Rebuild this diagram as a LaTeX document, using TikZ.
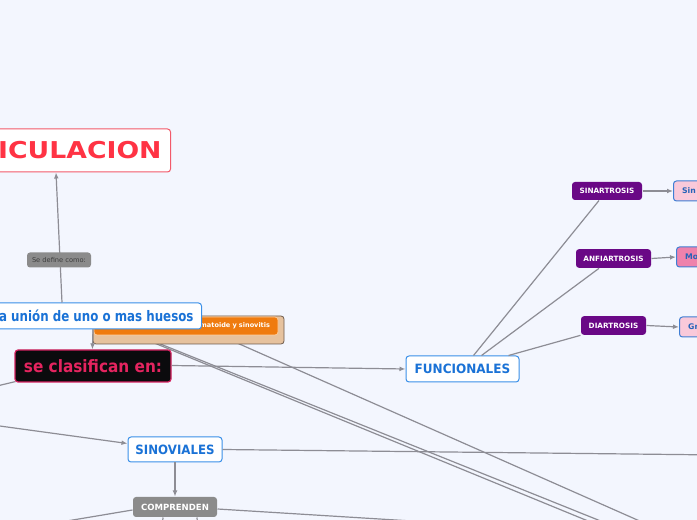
\documentclass[tikz,border=0pt]{standalone}
\usepackage{fontspec}
\setmainfont{DejaVu Sans}
\usetikzlibrary{arrows.meta,calc}
\pgfdeclarelayer{bgfill}
\pgfdeclarelayer{bglines}
\pgfsetlayers{bgfill,bglines,main}
\definecolor{bgc}{HTML}{F3F6FE}
\definecolor{lineg}{HTML}{8D8D95}
\definecolor{artborder}{HTML}{F25A6A}
\definecolor{artred}{HTML}{FF3344}
\definecolor{bluebd}{HTML}{3A8FE8}
\definecolor{bluetx}{HTML}{1A72D6}
\definecolor{blackf}{HTML}{0B0B0D}
\definecolor{crimbd}{HTML}{D4215F}
\definecolor{crimtx}{HTML}{E5245F}
\definecolor{purp}{HTML}{6A0886}
\definecolor{greybox}{HTML}{8B8B8B}
\definecolor{deftext}{HTML}{3D3D3D}
\definecolor{orangef}{HTML}{EF7B0F}
\definecolor{orangebd}{HTML}{FFCFA0}
\definecolor{tanf}{HTML}{E6C29E}
\definecolor{tanbd}{HTML}{6E5B4C}
\definecolor{pinkl}{HTML}{F9C9DA}
\definecolor{pinkd}{HTML}{EE82AC}
\definecolor{pinkbd}{HTML}{3F7ED4}
\definecolor{pinktx}{HTML}{2563B8}
\tikzset{
  conn/.style={draw=lineg, line width=0.9pt},
  arr/.style={conn, -{Latex[length=4.5pt,width=3.6pt]}},
  box/.style={rounded corners=2.25pt, inner sep=0pt, line width=0.75pt},
  artbox/.style={box, draw=artborder, fill=white, text=artred, font=\bfseries\fontsize{17.4pt}{20pt}\selectfont, inner xsep=6.75pt, minimum height=32.25pt},
  defbox/.style={box, draw=none, fill=greybox, text=deftext, font=\fontsize{5pt}{6pt}\selectfont, minimum width=48pt, minimum height=11.25pt},
  unionbox/.style={box, draw=bluebd, fill=white, text=bluetx, font=\bfseries\fontsize{10.9pt}{13pt}\selectfont, inner xsep=6pt, minimum height=19.5pt},
  tanbox/.style={box, draw=tanbd, fill=tanf, line width=0.6pt, minimum width=143.25pt, minimum height=21pt},
  orangebox/.style={box, draw=orangebd, fill=orangef, line width=0.5pt, text=white, font=\bfseries\fontsize{4.9pt}{6pt}\selectfont, minimum width=138pt, minimum height=13.5pt, text width=126pt, align=right},
  clasbox/.style={box, draw=crimbd, fill=blackf, text=crimtx, line width=0.9pt, font=\bfseries\fontsize{12.75pt}{15pt}\selectfont, minimum width=117pt, minimum height=24pt},
  catbox/.style={box, draw=bluebd, fill=white, text=bluetx, font=\bfseries\fontsize{9.6pt}{11pt}\selectfont, minimum height=19.5pt},
  compbox/.style={box, draw=none, fill=greybox, text=white, font=\bfseries\fontsize{6.4pt}{8pt}\selectfont, minimum width=63pt, minimum height=15pt},
  purpbox/.style={box, draw=none, fill=purp, text=white, font=\bfseries\fontsize{5.45pt}{7pt}\selectfont, minimum height=14pt},
  pinkbox/.style={box, draw=pinkbd, text=pinktx, font=\bfseries\fontsize{5.8pt}{7pt}\selectfont, inner xsep=6.5pt, minimum height=15pt}
}
\begin{document}
\begin{tikzpicture}[x=0.75pt,y=-0.75pt]
\useasboundingbox (0,0) rectangle (697,520);
\clip (0,0) rectangle (697,520);
\begin{pgfonlayer}{bgfill}
\fill[bgc] (0,0) rectangle (697,520);
\end{pgfonlayer}

% nodes
\node[tanbox] (enf) at (188.5,330) {};
\node[orangebox] (enfo) at (186,326) {Artritis reumatoide y sinovitis};
\node[artbox, anchor=east] (art) at (171,150.5) {\scalebox{1.15}[1]{ARTICULACION}};
\node[unionbox, anchor=east] (union) at (202,316) {\scalebox{0.815}[1]{la unión de uno o mas huesos}};
\node[clasbox] (clas) at (93,366) {\scalebox{0.9}[1]{se clasifican en:}};
\node[catbox, minimum width=84.75pt] (func) at (462.5,369) {\scalebox{0.94}[1]{FUNCIONALES}};
\node[catbox, minimum width=70.5pt, minimum height=18.75pt] (sino) at (175,449.5) {\scalebox{0.92}[1]{SINOVIALES}};
\node[compbox] (comp) at (175,507) {COMPRENDEN};
\node[purpbox, minimum width=52.5pt, minimum height=13.5pt] (sinart) at (607,191) {SINARTROSIS};
\node[purpbox, minimum width=56.25pt] (anfi) at (613.5,258.5) {ANFIARTROSIS};
\node[purpbox, minimum width=48.75pt] (diar) at (613.5,325.5) {DIARTROSIS};
\node[pinkbox, fill=pinkl, anchor=west] (sin) at (673,191) {Sin movimiento};
\node[pinkbox, fill=pinkd, anchor=west] (mo) at (676,257) {Movimiento limitado};
\node[pinkbox, fill=pinkl, anchor=west] (gr) at (679,327) {Gran movimiento};

% long connectors passing behind the boxes
\begin{pgfonlayer}{bglines}
\coordinate (hidA) at ($(enf.center)+(-58.5,3)$);
\coordinate (hidB) at ($(enf.center)+(-55.5,3)$);
\coordinate (hidC) at ($(enf.center)+(21.5,1)$);
\coordinate (offA) at (610,530);
\coordinate (offB) at (623,530);
\coordinate (offC) at (660,530);
\draw[conn] (hidA) -- (offA);
\draw[conn] (hidB) -- (offB);
\draw[conn] (hidC) -- (offC);
\end{pgfonlayer}

% connectors
\draw[arr] ($(union.north east)+(-140,0)$) -- ($(art.south east)+(-115,0)$);
\node[defbox] (def) at (59,260) {Se define como:};
\draw[arr] ($(union.south east)+(-109,0)$) -- ($(clas.north west)+(78,0)$);
\draw[arr] ($(clas.east)+(0,-0.5)$) -- (func.west);
\coordinate (offL1) at (-20,390);
\draw[conn] ($(clas.south west)+(1,-1)$) -- (offL1);
\coordinate (offL2) at (-20,423.3);
\draw[arr] (offL2) -- ($(sino.west)+(0,-6)$);
\draw[arr] (sino.south) -- (comp.north);
\coordinate (offR1) at (720,455);
\draw[conn] (sino.east) -- (offR1);
\coordinate (offL3) at (40,525.5);
\draw[conn] ($(comp.west)+(0,3)$) -- (offL3);
\coordinate (offR2) at (420,521.5);
\draw[conn] ($(comp.east)+(0,2)$) -- (offR2);
\coordinate (offD1) at (162,530);
\coordinate (offD2) at (198,530);
\draw[conn] ($(comp.south)+(-12,0)$) -- (offD1);
\draw[conn] ($(comp.south)+(22,0)$) -- (offD2);
\draw[conn] ($(func.north west)+(68,0)$) -- ($(sinart.south)+(-8,0)$);
\draw[conn] ($(func.north west)+(76,0)$) -- ($(anfi.south)+(-14.5,0)$);
\draw[conn] ($(func.north west)+(103,0)$) -- (diar.south west);
\draw[arr] (sinart.east) -- (sin.west);
\draw[arr] (anfi.east) -- (mo.west);
\draw[arr] (diar.east) -- (gr.west);
\end{tikzpicture}
\end{document}
